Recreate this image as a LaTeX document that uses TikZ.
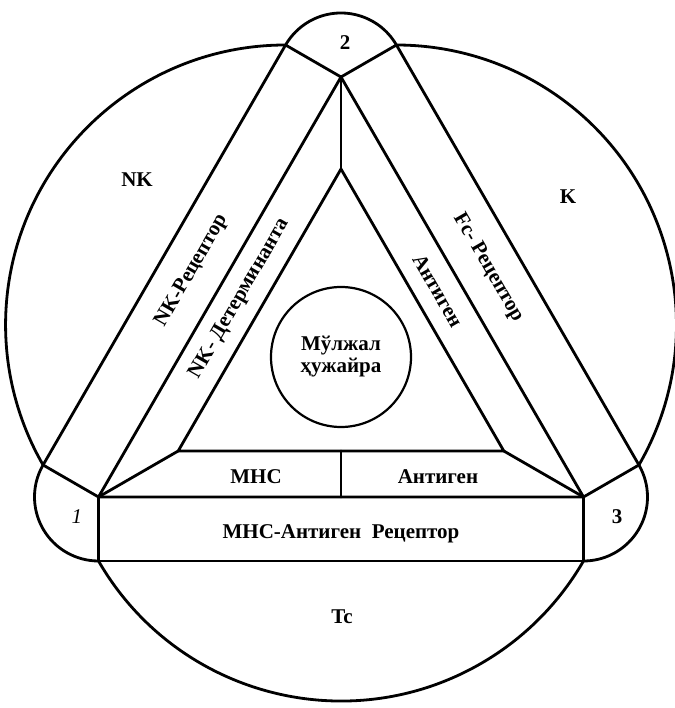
\documentclass[tikz,border=0pt]{standalone}
\usepackage{fontspec}
\setmainfont{Liberation Serif}
\usetikzlibrary{calc}
\begin{document}
\begin{tikzpicture}[x=0.5pt,y=0.5pt,
  edge/.style={line width=1.4pt, line join=round, line cap=round},
  thin edge/.style={line width=1.1pt},
  lbl/.style={font=\fontsize{10.5}{11}\selectfont\bfseries, inner sep=0pt},
  numlbl/.style={font=\fontsize{10.5}{11}\selectfont\bfseries, inner sep=0pt}]
\useasboundingbox (0,0) rectangle (675,708);
% centre and triangle vertices
\coordinate (G) at (341,351);
\coordinate (V1) at ($(G)+(210:280)$);
\coordinate (V2) at ($(G)+(90:280)$);
\coordinate (V3) at ($(G)+(330:280)$);
% inner triangle
\coordinate (I1) at ($(G)+(210:188)$);
\coordinate (I2) at ($(G)+(90:188)$);
\coordinate (I3) at ($(G)+(330:188)$);
% outer band ends
\coordinate (F2L) at ($(V2)+(150:64)$);
\coordinate (F1L) at ($(V1)+(150:64)$);
\coordinate (F2R) at ($(V2)+(30:64)$);
\coordinate (F3R) at ($(V3)+(30:64)$);
\coordinate (F1B) at ($(V1)+(270:64)$);
\coordinate (F3B) at ($(V3)+(270:64)$);
% divider ends
\coordinate (DT) at ($(I1)!0.5!(I3)$);
\coordinate (DB) at ($(V1)!0.5!(V3)$);

% cell circles (outer arcs)
\draw[edge] (F2L) arc[start angle=90, end angle=210, radius=280];
\draw[edge] (F3R) arc[start angle=-30, end angle=90, radius=280];
\draw[edge] (F1B) arc[start angle=210, end angle=330, radius=280];
% corner lenses
\draw[edge] (F2R) arc[start angle=30, end angle=150, radius=64];
\draw[edge] (F1L) arc[start angle=150, end angle=270, radius=64];
\draw[edge] (F3B) arc[start angle=-90, end angle=30, radius=64];
% bands
\draw[edge] (F2L) -- (F1L);
\draw[edge] (F2R) -- (F3R);
\draw[edge] (F1B) -- (F3B);
\draw[edge] (V1) -- (V2) -- (V3) -- cycle;
\draw[edge] (I1) -- (I2) -- (I3) -- cycle;
% caps
\draw[edge] (F2L) -- (V2) -- (F2R);
\draw[edge] (F1L) -- (V1) -- (F1B);
\draw[edge] (F3R) -- (V3) -- (F3B);
\draw[edge] (V2) -- (I2);
\draw[edge] (V1) -- (I1);
\draw[edge] (V3) -- (I3);
\draw[edge] (DT) -- (DB);
% target cell
\draw[thin edge] (G) circle[radius=70];
\node[lbl, align=center] (target) at (G) {Мўлжал\\[0pt]ҳужайра};

% labels
\node[lbl] (nk) at (137,528) {NK};
\node[lbl] (k) at (568,511) {K};
\node[lbl] (tc) at (342,91) {Tc};
\node[numlbl, font=\fontsize{10.5}{11}\selectfont\itshape] (n1) at (77,191) {1};
\node[numlbl] (n2) at (345,665) {2};
\node[numlbl] (n3) at (617,191) {3};
\node[lbl] (mhc) at (256,231) {МНС};
\node[lbl] (ant) at (438,231) {Антиген};
\node[lbl] (mhcr) at (341,174) {МНС-Антиген\ \ Рецептор};
\node[lbl, rotate=60] (nkr) at ($(G)+(150:172)$) {NK-Рецептор};
\node[lbl, rotate=60] (nkd) at ($(G)+(150:117)$) {NK- Детерминанта};
\node[lbl, rotate=-60] (fcr) at ($(G)+(30:172)+(120:4)$) {Fc- Рецептор};
\node[lbl, rotate=-60] (antr) at ($(G)+(30:117)+(120:9)$) {Антиген};
\end{tikzpicture}
\end{document}
